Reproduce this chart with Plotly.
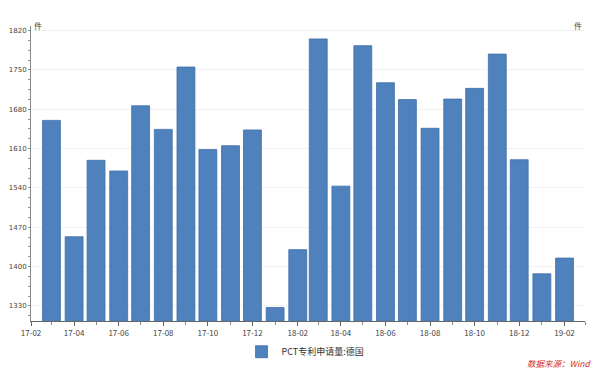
import plotly.graph_objects as go

months = ["2017-03-01", "2017-04-01", "2017-05-01", "2017-06-01", "2017-07-01", "2017-08-01",
          "2017-09-01", "2017-10-01", "2017-11-01", "2017-12-01", "2018-01-01", "2018-02-01",
          "2018-03-01", "2018-04-01", "2018-05-01", "2018-06-01", "2018-07-01", "2018-08-01",
          "2018-09-01", "2018-10-01", "2018-11-01", "2018-12-01", "2019-01-01", "2019-02-01"]
pct_de = [1660, 1453, 1589, 1570, 1686, 1644, 1755, 1608, 1615, 1643, 1327, 1430,
          1805, 1543, 1793, 1727, 1697, 1646, 1698, 1717, 1778, 1590, 1387, 1415]
series_name = "PCT专利申请量:德国"
unit = "件"
source = "数据来源：Wind"

FONT = "Noto Sans CJK SC"
DAY_MS = 86400000
yr = [1303, 1828]

fig = go.Figure()
fig.add_trace(go.Bar(
    x=months, y=pct_de, name=series_name,
    marker=dict(color="#4F81BD", line=dict(color="#3F6FA8", width=0.8)),
    width=24.5 * DAY_MS,
))

axis_common = dict(
    range=yr, tick0=1330, dtick=70, ticks="outside", ticklen=2, tickcolor="#888",
    showline=True, linecolor="#888", linewidth=1, automargin=False,
    tickfont=dict(size=7, color="#444", family="DejaVu Sans"),
    ticklabelstandoff=0,
    minor=dict(dtick=17.5, tick0=1330, ticks="outside", ticklen=2, tickcolor="#999"),
    zeroline=False,
)

fig.update_layout(
    width=600, height=370,
    margin=dict(l=23, r=23, t=18, b=42),
    paper_bgcolor="white", plot_bgcolor="white",
    font=dict(family=FONT, size=9, color="#444"),
    showlegend=True,
    legend=dict(orientation="h", x=0.38, xanchor="left", y=-0.055, yanchor="top",
                font=dict(size=9, color="#333", family=FONT), bgcolor="rgba(0,0,0,0)"),
    xaxis=dict(
        type="date", range=["2017-02-01", "2019-03-01"], automargin=False,
        tick0="2017-02-01", dtick="M2", tickformat="%y-%m",
        ticks="outside", ticklen=4, tickcolor="#666",
        showline=True, linecolor="#666", linewidth=1, showgrid=False,
        tickfont=dict(size=8, color="#444", family=FONT),
        minor=dict(dtick="M1", ticks="outside", ticklen=3, tickcolor="#888"),
    ),
    yaxis=dict(**axis_common, showgrid=True, gridcolor="#f2f2f2", gridwidth=1, side="left"),
    yaxis2=dict(**axis_common, showgrid=False, side="right", overlaying="y", anchor="x"),
    bargap=0.2,
)

fig.add_annotation(text=unit, xref="paper", yref="paper", x=0, y=1.0, xanchor="left",
                   yanchor="bottom", xshift=1, yshift=-7, showarrow=False,
                   font=dict(size=8, color="#444", family=FONT))
fig.add_annotation(text=unit, xref="paper", yref="paper", x=1, y=1.0, xanchor="right",
                   yanchor="bottom", xshift=-1, yshift=-7, showarrow=False,
                   font=dict(size=8, color="#444", family=FONT))
fig.add_annotation(text="<i>" + source + "</i>", xref="paper", yref="paper", x=1, y=-0.115,
                   xanchor="right", yanchor="top", xshift=8, showarrow=False,
                   font=dict(size=8.5, color="#D42A2A", family=FONT))

fig.write_html("out.html")
